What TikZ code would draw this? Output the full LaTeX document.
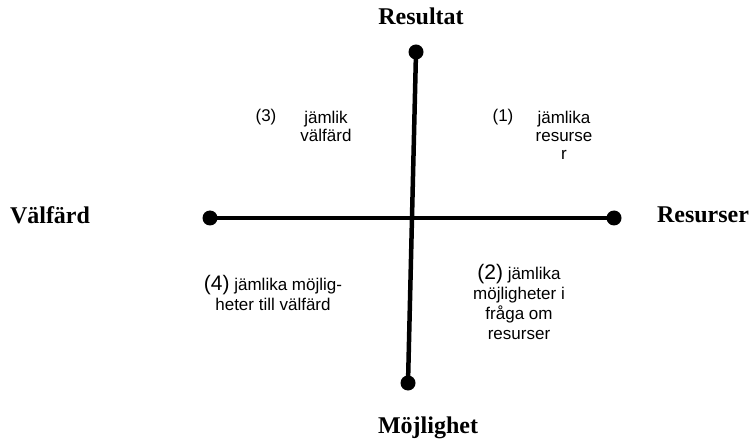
\documentclass[tikz,border=0pt]{standalone}
\usepackage{fontspec}
\setmainfont{Liberation Serif}
\newfontfamily\quadfont{Liberation Sans}
\usetikzlibrary{positioning}
\tikzset{
    axislabel/.style={font=\fontsize{24}{26}\selectfont\bfseries, text=black},
    quadtext/.style={font=\quadfont\fontsize{17}{18}\selectfont, align=center, inner sep=0pt},
    quadwide/.style={font=\quadfont\fontsize{17}{20}\selectfont, align=center, inner sep=0pt},
    enddot/.style={circle, fill=black, minimum size=15pt, inner sep=0pt},
    axis/.style={line width=4.5pt, black}
}
\begin{document}
\begin{tikzpicture}[x=1pt, y=-1pt]

\useasboundingbox (0,0) rectangle (754,443);

% Axis end points
\node[enddot] (top) at (416,52) {};
\node[enddot] (bottom) at (408,383) {};
\node[enddot] (left) at (210,218) {};
\node[enddot] (right) at (614,218) {};

% Axes
\draw[axis] (top.center) -- (bottom.center);
\draw[axis] (left.center) -- (right.center);

% Axis labels
\node[axislabel] (resultat) at (421,16) {Resultat};
\node[axislabel] (valfard) at (50,215) {Välfärd};
\node[axislabel] (resurser) at (703,215) {Resurser};
\node[axislabel] (mojlighet) at (428,428) {Möjlighet};

% Quadrant (3)
\node[quadtext] (q3num) at (266,117) {(3)};
\node[quadtext] (q3) at (326,126) {jämlik\\välfärd};

% Quadrant (1)
\node[quadtext] (q1num) at (503,117) {(1)};
\node[quadtext] (q1) at (564,135) {jämlika\\resurse\\r};

% Quadrant (4)
\node[quadwide] (q4) at (273,293) {{\fontsize{21}{20}\selectfont(4)} jämlika möjlig-\\heter till välfärd};

% Quadrant (2)
\node[quadwide] (q2) at (519,302) {{\fontsize{21}{20}\selectfont(2)} jämlika\\möjligheter i\\fråga om\\resurser};

\end{tikzpicture}
\end{document}
